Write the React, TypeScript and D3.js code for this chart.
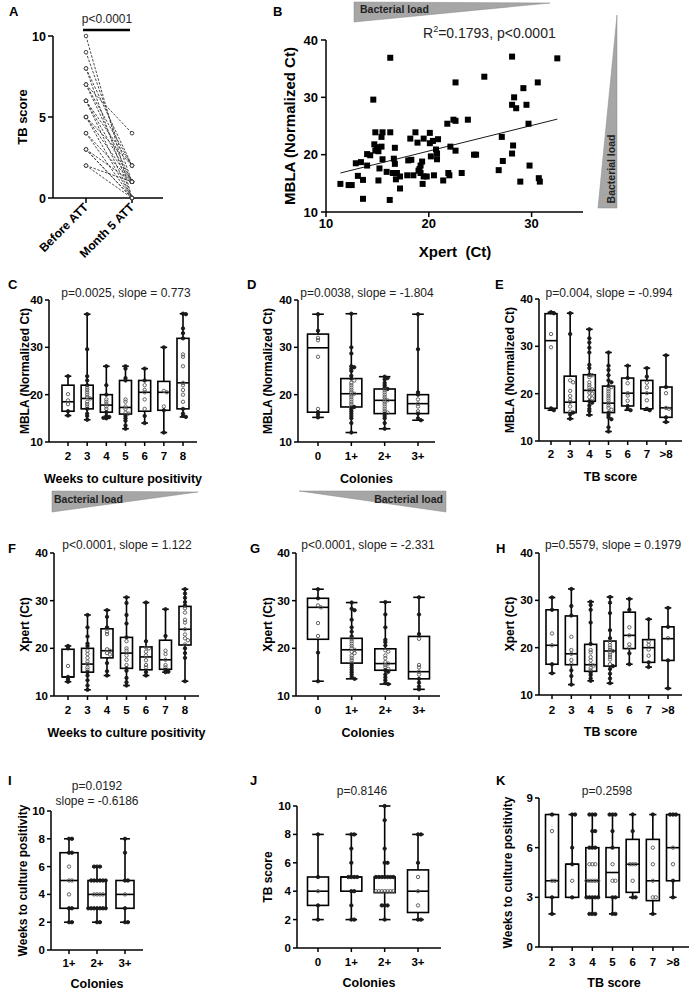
import React from "react";
import * as d3 from "d3";

const FONT = "'Liberation Sans', Arial, Helvetica, sans-serif";

// ---------- Panel A ----------
const aCats = ["Before ATT", "Month 5 ATT"];
const aBefore = [10, 9, 8, 8, 7, 7, 7, 6, 6, 6, 5, 5, 5, 4, 4, 3, 3, 3, 2, 2];
const aAfter = [0, 1, 2, 0, 4, 2, 1, 2, 1, 0, 1, 0, 2, 0, 1, 0, 1, 0, 0, 1];
const aTicks = [0, 5, 10];

// ---------- Panel B ----------
const bXpert = [11.4, 12.2, 12.5, 12.9, 13.1, 13.4, 13.6, 13.6, 14.0, 14.0, 14.3, 14.6, 14.7, 14.8, 14.8, 14.95, 15.1, 15.1, 15.2, 15.4, 15.4, 15.5, 15.5, 15.9, 16.25, 16.25, 16.2, 16.5, 16.6, 16.7, 16.7, 16.8, 16.9, 17.2, 17.2, 17.9, 18.0, 18.2, 18.3, 18.5, 18.7, 18.9, 19.0, 19.1, 19.2, 19.2, 19.35, 19.4, 19.5, 19.5, 19.8, 20.1, 20.1, 20.2, 20.4, 20.5, 20.7, 20.8, 20.8, 20.9, 21.4, 21.8, 21.9, 22.0, 22.1, 22.4, 22.6, 22.6, 22.6, 23.2, 23.8, 24.4, 24.6, 25.4, 26.8, 27.1, 27.2, 28.1, 28.1, 28.1, 28.2, 28.3, 28.5, 28.9, 29.2, 29.5, 29.7, 29.8, 30.6, 30.7, 30.8, 32.5];
const bMBLA = [14.9, 14.7, 14.7, 18.5, 16.3, 18.7, 12.3, 15.6, 18.1, 20.1, 19.9, 29.6, 21.8, 23.9, 20.7, 21.3, 20.6, 15.5, 17.6, 21.4, 23.1, 23.9, 19.2, 17.0, 36.9, 23.9, 12.1, 16.8, 19.3, 21.2, 18.4, 15.7, 16.8, 16.2, 14.1, 16.4, 19.0, 22.8, 19.1, 16.4, 23.9, 22.1, 17.2, 17.5, 18.1, 16.8, 18.8, 14.9, 22.8, 16.2, 16.2, 23.8, 22.0, 19.7, 22.4, 16.4, 20.9, 20.2, 19.2, 22.7, 15.5, 25.4, 16.8, 16.4, 21.4, 26.1, 32.6, 25.9, 20.7, 16.8, 26.1, 20.0, 20.0, 33.6, 17.3, 23.1, 18.9, 37.1, 28.7, 20.2, 21.6, 30.0, 28.1, 15.3, 31.6, 28.7, 25.4, 18.1, 32.6, 15.9, 15.3, 36.8];
const bFitX = [11.4, 32.5];
const bFitY = [16.8, 26.2];
const bXTicks = [10, 20, 30];
const bYTicks = [10, 20, 30, 40];

// ---------- shared categories ----------
const weekCats = ["2", "3", "4", "5", "6", "7", "8"];
const colCats = ["0", "1+", "2+", "3+"];
const tbCats = ["2", "3", "4", "5", "6", "7", ">8"];
const ctTicks = [10, 20, 30, 40];

// ---------- Panel C ----------
const cPoints = [
  [23.9, 20.1, 18.8, 18, 16.5, 15.6],
  [37, 29.6, 23.9, 23, 22, 21.5, 21, 20.5, 20, 19.5, 19.2, 18.5, 18, 17.5, 17, 16, 15.5, 14.7],
  [26, 22, 20, 19, 18.5, 18, 17.5, 17, 16.3, 15.5, 15.3, 15.1, 15],
  [26, 25.5, 23.5, 23, 19, 18.5, 17.5, 17, 16.2, 16, 15.5, 15, 14.5, 13.5, 12.8],
  [25.5, 23, 22, 21, 20.5, 19, 17, 15.5, 14],
  [30, 20.8, 20.5, 17.5, 16.7, 12],
  [37.1, 37, 34, 33, 31.9, 28.5, 28, 26, 22.5, 22, 21, 20, 18.5, 17, 16, 15.5, 15.3],
];
const cBox = [[15.6, 16.5, 18.5, 22, 23.9], [14.7, 17, 19.2, 22, 37], [15, 16.3, 17.8, 20, 26], [12.8, 15.9, 17.3, 23, 26], [14, 16.5, 20.5, 23, 25.5], [12, 16.7, 20.5, 22.8, 30], [15.3, 17, 22.5, 31.9, 37.1]];

// ---------- Panel D ----------
const dPoints = [
  [37, 33.5, 32, 31.5, 28, 17, 16.3, 15.8, 15.2],
  [37.1, 30, 28.7, 26, 25.8, 25.5, 25, 24, 23.4, 23, 22.5, 22, 21.5, 21, 20.5, 20.2, 20, 19.5, 19, 18.5, 18, 17.5, 17.4, 17, 16.5, 16, 15.5, 15, 14, 12],
  [23.8, 23.5, 23.2, 22.5, 22, 21.5, 21.2, 21, 20.5, 20, 19.5, 19, 18.8, 18.5, 18, 17.5, 17, 16.5, 16.2, 16, 15.5, 15, 14, 12.8],
  [37, 29.6, 20.5, 20, 19, 18.1, 17.5, 16.5, 16, 15, 14.6],
];
const dBox = [[15.2, 16.3, 29.9, 32.8, 37], [12, 17.4, 20.2, 23.4, 37.1], [12.8, 16, 18.8, 21.2, 23.8], [14.6, 16, 18.1, 20, 37]];

// ---------- Panel E ----------
const ePoints = [
  [37.2, 37, 32.6, 29.8, 16.9, 16.5],
  [37, 32.6, 22.8, 22.4, 20.6, 19.5, 18.7, 18.2, 17.3, 16.2, 16, 15.6, 14.7],
  [33.6, 31.7, 30.8, 29.7, 28.7, 26.1, 25.4, 24, 23.9, 23.5, 22.4, 21.8, 21.3, 20.9, 20.7, 20.2, 20, 19.3, 19, 18.4, 18.1, 17.5, 16.8, 16.3, 15.5],
  [28.7, 25.9, 25, 23.9, 22.8, 22.4, 21.6, 21.4, 21, 20.5, 20, 19.5, 19, 18.5, 18, 17.5, 17, 16.6, 16, 15.5, 15, 14.6, 12.9, 12],
  [25.9, 23.3, 22.2, 20.1, 19.6, 18.5, 17.4, 16.8, 16.5],
  [25.4, 23.6, 22.3, 21.3, 20.1, 18.6, 16.8, 16.5],
  [28.1, 21.4, 20.1, 17, 16.8, 15, 14],
];
const eBox = [[16.5, 16.9, 31.2, 36.9, 37.2], [14.7, 16, 18.2, 23.7, 37], [15.5, 18.4, 20.7, 24, 33.6], [12, 16, 18, 21.6, 28.7], [16.5, 17.4, 20.1, 23.3, 25.9], [16.5, 16.8, 20.1, 22.8, 25.4], [14, 15, 17, 21.4, 28.1]];

// ---------- Panel F ----------
const fPoints = [
  [20.5, 20, 16.3, 14, 13.5, 13],
  [27, 24.4, 22.5, 21, 20.5, 19.5, 18.8, 18, 17.2, 16.7, 16, 15.5, 15, 14.3, 13.3, 12.2, 11.3],
  [28, 26.6, 24.4, 23.5, 23, 19.8, 19.5, 19, 18.7, 16.9, 15.2, 14.3],
  [30.7, 29.5, 27, 25.2, 22.3, 21.5, 20, 19.5, 18.5, 17.6, 16.5, 15.8, 15.3, 13.8, 12.9, 12.2],
  [29.6, 21.5, 20.2, 20, 19.3, 18.5, 17.5, 16.5, 16, 15, 14.3],
  [28.2, 22.6, 19.5, 18.8, 17.6, 16.5, 16, 15.5, 15.1, 15],
  [32.4, 31.5, 30.6, 29.7, 29, 28.4, 27.5, 26, 25.4, 24, 22.9, 22.1, 21.7, 20.8, 20, 19, 18, 13.1],
];
const fBox = [[13, 14, 14, 19.8, 20.5], [11.3, 15, 16.7, 20, 27], [14.3, 18, 19.5, 24.1, 28], [12.2, 15.8, 19, 22.3, 30.7], [14.3, 15.5, 18.2, 20.3, 29.6], [15, 15.6, 17.6, 21.7, 28.2], [13.1, 20.7, 24, 28.8, 32.4]];

// ---------- Panel G ----------
const gPoints = [
  [32.4, 30.5, 29, 28.6, 25.3, 22.6, 19.1, 13.1],
  [29.6, 28.3, 28, 26, 24.4, 23.5, 22.5, 22, 21.5, 21, 20.5, 20, 19.7, 19.3, 19, 18.5, 18, 17.5, 17, 16.5, 16, 15.5, 15, 14.5, 14, 13.6],
  [29.7, 27.1, 24.4, 21.8, 21.3, 20.6, 19.6, 19.3, 18.5, 17.9, 17.1, 16.8, 16.5, 16, 15.7, 15.4, 15.1, 14.5, 13.9, 13.3, 12.7, 12.5],
  [30.7, 27.1, 23, 22, 16.5, 16, 15.1, 14.5, 13.6, 12.8, 12, 11.4],
];
const gBox = [[13.1, 21.9, 28.6, 30.5, 32.4], [13.6, 16.9, 19.7, 22.1, 29.6], [12.5, 15.4, 16.8, 19.9, 29.7], [11.4, 13.6, 15.1, 22.5, 30.7]];

// ---------- Panel H ----------
const hPoints = [
  [30.6, 28, 23, 20.5, 16.5, 14.6],
  [32.4, 28.8, 26.8, 22.3, 19.5, 18.7, 17.4, 16.5, 15.2, 14, 12.2],
  [29.7, 29, 28, 25.3, 20.8, 19.5, 19, 18, 17.3, 16.5, 16.2, 15.7, 15.2, 14.7, 14.2, 13.5, 13],
  [30.7, 29.5, 27.3, 23.7, 22, 21.2, 20.5, 20, 19.5, 19.3, 19, 18.5, 18, 17.5, 16.5, 16.1, 15.5, 14.5, 13.5, 12.5],
  [30.3, 28, 24.3, 22.6, 20.7, 20, 18.8, 16.5],
  [26, 21.3, 20.6, 19.6, 18.3, 16.9, 15.9],
  [28.4, 24.4, 22, 17.3, 11.4],
];
const hBox = [[14.6, 16.5, 20.5, 28, 30.6], [12.2, 16.4, 18.7, 26.7, 32.4], [13, 15, 16.4, 20.7, 29.7], [12.5, 16.1, 19.3, 21.4, 30.7], [16.5, 19.8, 22.6, 27.5, 30.3], [15.9, 16.9, 20, 21.7, 26], [11.4, 17.3, 21.9, 24.4, 28.4]];

// ---------- Panel I ----------
const iCats = ["1+", "2+", "3+"];
const iTicks = [0, 2, 4, 6, 8, 10];
const iPoints = [
  [8, 8, 7, 7, 6, 5, 5, 4, 3, 3, 2, 2],
  [6, 6, 6, 5, 5, 5, 5, 5, 5, 4, 4, 4, 4, 3, 3, 3, 3, 3, 3, 3, 2, 2],
  [8, 7, 5, 5, 4, 3, 2, 2],
];
const iBox = [[2, 3, 5, 7, 8], [2, 3, 4, 5, 6], [2, 3, 4, 5, 8]];

// ---------- Panel J ----------
const jTicks = [0, 2, 4, 6, 8, 10];
const jPoints = [
  [8, 5, 4, 3, 2],
  [8, 8, 7, 6, 5, 5, 5, 5, 4, 4, 3, 2, 2],
  [10, 9, 7, 6, 6, 5, 5, 5, 5, 5, 5, 5, 4, 4, 4, 4, 4, 4, 4, 3, 3, 3, 2],
  [8, 8, 6, 5, 4, 3, 2, 2],
];
const jBox = [[2, 3, 4, 5, 8], [2, 4, 5, 5, 8], [2, 3.9, 5, 5, 10], [2, 2.5, 4, 5.5, 8]];

// ---------- Panel K ----------
const kTicks = [0, 3, 6, 9];
const kPoints = [
  [8, 7, 4, 4, 3, 2],
  [8, 8, 6, 5, 4, 3],
  [8, 8, 8, 7, 7, 6, 6, 6, 5, 5, 5, 4, 4, 4, 4, 4, 3, 3, 3, 3, 3, 2, 2, 2],
  [8, 8, 8, 7, 6, 5, 4, 4, 3, 3, 2, 2],
  [8, 7, 5, 5, 5, 4, 3, 3],
  [8, 6, 5, 4, 3, 3, 2],
  [8, 8, 8, 6, 5, 4, 3],
];
const kBox = [[2, 3, 4, 8, 8], [3, 3, 5, 5, 8], [2, 3, 4, 6, 8], [2, 3, 4.5, 6, 8], [3, 3.3, 5, 6.5, 8], [2, 2.8, 4, 6.5, 8], [3, 4, 6, 8, 8]];

type Cfg = {
  letter: string; letterX: number; letterY: number;
  title: string[]; titleX: number; titleY: number;
  axisX: number; xEnd: number; yTop: number; yBot: number;
  domain: [number, number]; ticks: number[];
  cats: string[]; catRange: [number, number]; boxW: number;
  points: number[][]; stats: number[][];
  yLabel: string; yLabelX: number; xLabel: string; xLabelY: number; tickY: number;
};

function swarm(vals: number[], y: (v: number) => number, cx: number, step: number) {
  const placed: [number, number][] = [];
  const out: [number, number][] = new Array(vals.length);
  const order = vals.map((v, i) => ({ v, i })).sort((a, b) => b.v - a.v);
  for (const { v, i } of order) {
    const py = y(v);
    for (let k = 0; k < 30; k++) {
      const o = k === 0 ? 0 : k % 2 === 1 ? Math.ceil(k / 2) : -Math.ceil(k / 2);
      const px = cx + o * step;
      if (placed.every((p) => Math.hypot(p[0] - px, p[1] - py) >= step * 0.8)) {
        placed.push([px, py]);
        out[i] = [px, py];
        break;
      }
    }
  }
  return out;
}

function BoxPanel({ c }: { c: Cfg }) {
  const y = d3.scaleLinear().domain(c.domain).range([c.yBot, c.yTop]);
  const x = d3.scalePoint<string>().domain(c.cats).range(c.catRange);
  const midX = (c.axisX + c.xEnd) / 2;
  const midY = (c.yTop + c.yBot) / 2;
  const cap = Math.max(6, c.boxW * 0.55);
  return (
    <g>
      <text x={c.letterX} y={c.letterY} fontSize={13} fontWeight="bold">{c.letter}</text>
      {c.title.map((t, i) => (
        <text key={i} x={c.titleX} y={c.titleY + i * 15} fontSize={12} textAnchor="middle" fill="#222">{t}</text>
      ))}
      <line x1={c.axisX} x2={c.axisX} y1={c.yTop} y2={c.yBot} stroke="#000" strokeWidth={1.5} />
      <line x1={c.axisX} x2={c.xEnd} y1={c.yBot} y2={c.yBot} stroke="#000" strokeWidth={1.5} />
      {c.ticks.map((t) => (
        <g key={t}>
          <line x1={c.axisX - 4} x2={c.axisX} y1={y(t)} y2={y(t)} stroke="#000" strokeWidth={1.5} />
          <text x={c.axisX - 6} y={y(t) + 4} fontSize={11.5} fontWeight="bold" textAnchor="end">{t}</text>
        </g>
      ))}
      {c.cats.map((k) => (
        <g key={k}>
          <line x1={x(k)} x2={x(k)} y1={c.yBot} y2={c.yBot + 4} stroke="#000" strokeWidth={1.5} />
          <text x={x(k)} y={c.tickY} fontSize={11.5} fontWeight="bold" textAnchor="middle">{k}</text>
        </g>
      ))}
      <text transform={`translate(${c.yLabelX},${midY}) rotate(-90)`} fontSize={12} fontWeight="bold" textAnchor="middle">{c.yLabel}</text>
      <text x={midX} y={c.xLabelY} fontSize={12.5} fontWeight="bold" textAnchor="middle">{c.xLabel}</text>
      {c.cats.map((k, i) => {
        const cx = x(k) as number;
        const [mn, q1, md, q3, mx] = c.stats[i];
        return (
          <g key={"b" + k} stroke="#000" strokeWidth={1.6}>
            <line x1={cx} x2={cx} y1={y(mn)} y2={y(q1)} />
            <line x1={cx} x2={cx} y1={y(q3)} y2={y(mx)} />
            <line x1={cx - cap / 2} x2={cx + cap / 2} y1={y(mn)} y2={y(mn)} />
            <line x1={cx - cap / 2} x2={cx + cap / 2} y1={y(mx)} y2={y(mx)} />
            <rect x={cx - c.boxW / 2} y={y(q3)} width={c.boxW} height={Math.max(0.5, y(q1) - y(q3))} fill="#fff" />
            <line x1={cx - c.boxW / 2} x2={cx + c.boxW / 2} y1={y(md)} y2={y(md)} />
          </g>
        );
      })}
      {c.cats.map((k, i) => {
        const pts = swarm(c.points[i], y, x(k) as number, 2.9);
        const [, q1, , q3] = c.stats[i];
        return (
          <g key={"p" + k}>
            {pts.map((p, j) => {
              const v = c.points[i][j];
              const inside = v > q1 && v < q3;
              return (
                <circle key={j} cx={p[0]} cy={p[1]} r={1.7} fill={inside ? "none" : "#1a1a1a"} stroke={inside ? "#555" : "#1a1a1a"} strokeWidth={0.9} />
              );
            })}
          </g>
        );
      })}
    </g>
  );
}

function PanelA() {
  const y = d3.scaleLinear().domain([0, 10]).range([198, 36]);
  const x = d3.scalePoint<string>().domain(aCats).range([86, 132]);
  const x0 = x(aCats[0]) as number;
  const x1 = x(aCats[1]) as number;
  return (
    <g>
      <text x={9} y={16} fontSize={13} fontWeight="bold">A</text>
      <text x={107} y={23} fontSize={12} textAnchor="middle" fill="#222">p&lt;0.0001</text>
      <line x1={83} x2={130} y1={30} y2={30} stroke="#000" strokeWidth={2.6} />
      <line x1={53} x2={53} y1={36} y2={198} stroke="#000" strokeWidth={1.5} />
      <line x1={53} x2={163} y1={198} y2={198} stroke="#000" strokeWidth={1.5} />
      {aTicks.map((t) => (
        <g key={t}>
          <line x1={48} x2={53} y1={y(t)} y2={y(t)} stroke="#000" strokeWidth={1.5} />
          <text x={46} y={y(t) + 4.5} fontSize={12.5} fontWeight="bold" textAnchor="end">{t}</text>
        </g>
      ))}
      {aCats.map((k) => (
        <g key={k}>
          <line x1={x(k)} x2={x(k)} y1={198} y2={203} stroke="#000" strokeWidth={1.5} />
          <text transform={`translate(${(x(k) as number) + 3},${208}) rotate(-45)`} fontSize={12} fontWeight="bold" textAnchor="end">{k}</text>
        </g>
      ))}
      <text transform={`translate(27,117) rotate(-90)`} fontSize={13} fontWeight="bold" textAnchor="middle">TB score</text>
      {aBefore.map((b, i) => (
        <line key={i} x1={x0} y1={y(b)} x2={x1} y2={y(aAfter[i])} stroke="#333" strokeWidth={0.9} strokeDasharray="2.5,1.5" />
      ))}
      {aBefore.map((b, i) => (
        <circle key={"b" + i} cx={x0} cy={y(b)} r={1.8} fill="#fff" stroke="#333" strokeWidth={0.9} />
      ))}
      {aAfter.map((b, i) => (
        <circle key={"a" + i} cx={x1} cy={y(b)} r={1.8} fill="#fff" stroke="#333" strokeWidth={0.9} />
      ))}
    </g>
  );
}

function PanelB() {
  const x = d3.scaleLinear().domain([10, 35]).range([326, 583]);
  const y = d3.scaleLinear().domain([10, 40]).range([212, 40]);
  const line = d3.line<number>().x((_, i) => x(bFitX[i])).y((d) => y(d));
  return (
    <g>
      <text x={273} y={16} fontSize={13} fontWeight="bold">B</text>
      <polygon points="354,2 550,3 354,22" fill="#a6a6a6" stroke="#8a8a8a" strokeWidth={0.5} />
      <text x={360} y={13} fontSize={10.5} fontWeight="bold" fill="#222">Bacterial load</text>
      <polygon points="617,15 617,208 598,208" fill="#a6a6a6" stroke="#8a8a8a" strokeWidth={0.5} />
      <text transform="translate(615,169) rotate(-90)" fontSize={10.5} fontWeight="bold" fill="#222" textAnchor="middle">Bacterial load</text>
      <text x={423} y={38} fontSize={14} fill="#222">R<tspan fontSize={9} dy={-6}>2</tspan><tspan dy={6}>=0.1793, p&lt;0.0001</tspan></text>
      <line x1={326} x2={326} y1={40} y2={212} stroke="#000" strokeWidth={1.5} />
      <line x1={326} x2={583} y1={212} y2={212} stroke="#000" strokeWidth={1.5} />
      {bYTicks.map((t) => (
        <g key={t}>
          <line x1={321} x2={326} y1={y(t)} y2={y(t)} stroke="#000" strokeWidth={1.5} />
          <text x={318} y={y(t) + 4.5} fontSize={13} fontWeight="bold" textAnchor="end">{t}</text>
        </g>
      ))}
      {bXTicks.map((t) => (
        <g key={t}>
          <line x1={x(t)} x2={x(t)} y1={212} y2={217} stroke="#000" strokeWidth={1.5} />
          <text x={x(t)} y={228} fontSize={13} fontWeight="bold" textAnchor="middle">{t}</text>
        </g>
      ))}
      <text transform="translate(295,126) rotate(-90)" fontSize={15} fontWeight="bold" textAnchor="middle">MBLA (Normalized Ct)</text>
      <text x={455} y={257} fontSize={15} fontWeight="bold" textAnchor="middle" style={{ whiteSpace: "pre" }}>Xpert  (Ct)</text>
      {bXpert.map((v, i) => (
        <rect key={i} x={x(v) - 3} y={y(bMBLA[i]) - 3} width={6} height={6} fill="#000" />
      ))}
      <path d={line(bFitY) || ""} stroke="#000" strokeWidth={0.9} fill="none" />
    </g>
  );
}

const panels: Cfg[] = [
  { letter: "C", letterX: 8, letterY: 289, title: ["p=0.0025, slope = 0.773"], titleX: 126, titleY: 297, axisX: 49, xEnd: 197, yTop: 300, yBot: 442, domain: [10, 40], ticks: ctTicks, cats: weekCats, catRange: [68, 183], boxW: 12, points: cPoints, stats: cBox, yLabel: "MBLA (Normalized Ct)", yLabelX: 29, xLabel: "Weeks to culture positivity", xLabelY: 483, tickY: 460 },
  { letter: "D", letterX: 247, letterY: 289, title: ["p=0.0038, slope = -1.804"], titleX: 367, titleY: 297, axisX: 298, xEnd: 435, yTop: 300, yBot: 442, domain: [10, 40], ticks: ctTicks, cats: colCats, catRange: [318, 418], boxW: 21, points: dPoints, stats: dBox, yLabel: "MBLA (Normalized Ct)", yLabelX: 272, xLabel: "Colonies", xLabelY: 483, tickY: 460 },
  { letter: "E", letterX: 495, letterY: 289, title: ["p=0.004, slope = -0.994"], titleX: 609, titleY: 297, axisX: 539, xEnd: 682, yTop: 299, yBot: 441, domain: [10, 40], ticks: ctTicks, cats: tbCats, catRange: [551, 666], boxW: 12, points: ePoints, stats: eBox, yLabel: "MBLA (Normalized Ct)", yLabelX: 514, xLabel: "TB score", xLabelY: 481, tickY: 458 },
  { letter: "F", letterX: 8, letterY: 553, title: ["p<0.0001, slope = 1.122"], titleX: 127, titleY: 549, axisX: 54, xEnd: 199, yTop: 553, yBot: 696, domain: [10, 40], ticks: ctTicks, cats: weekCats, catRange: [68, 185], boxW: 12, points: fPoints, stats: fBox, yLabel: "Xpert (Ct)", yLabelX: 29, xLabel: "Weeks to culture positivity", xLabelY: 737, tickY: 714 },
  { letter: "G", letterX: 250, letterY: 553, title: ["p<0.0001, slope = -2.331"], titleX: 368, titleY: 549, axisX: 296, xEnd: 440, yTop: 553, yBot: 696, domain: [10, 40], ticks: ctTicks, cats: colCats, catRange: [318, 419], boxW: 21, points: gPoints, stats: gBox, yLabel: "Xpert (Ct)", yLabelX: 272, xLabel: "Colonies", xLabelY: 737, tickY: 714 },
  { letter: "H", letterX: 496, letterY: 553, title: ["p=0.5579, slope = 0.1979"], titleX: 613, titleY: 549, axisX: 539, xEnd: 682, yTop: 553, yBot: 695, domain: [10, 40], ticks: ctTicks, cats: tbCats, catRange: [552, 668], boxW: 12, points: hPoints, stats: hBox, yLabel: "Xpert (Ct)", yLabelX: 514, xLabel: "TB score", xLabelY: 736, tickY: 714 },
  { letter: "I", letterX: 8, letterY: 785, title: ["p=0.0192", "slope = -0.6186"], titleX: 97, titleY: 790, axisX: 51, xEnd: 143, yTop: 811, yBot: 950, domain: [0, 10], ticks: iTicks, cats: iCats, catRange: [69, 125], boxW: 18, points: iPoints, stats: iBox, yLabel: "Weeks to culture positivity", yLabelX: 27, xLabel: "Colonies", xLabelY: 988, tickY: 967 },
  { letter: "J", letterX: 250, letterY: 785, title: ["p=0.8146"], titleX: 362, titleY: 795, axisX: 297, xEnd: 441, yTop: 806, yBot: 948, domain: [0, 10], ticks: jTicks, cats: colCats, catRange: [318, 418], boxW: 21, points: jPoints, stats: jBox, yLabel: "TB score", yLabelX: 272, xLabel: "Colonies", xLabelY: 987, tickY: 966 },
  { letter: "K", letterX: 496, letterY: 785, title: ["p=0.2598"], titleX: 607, titleY: 795, axisX: 539, xEnd: 689, yTop: 798, yBot: 947, domain: [0, 9], ticks: kTicks, cats: tbCats, catRange: [552, 673], boxW: 13, points: kPoints, stats: kBox, yLabel: "Weeks to culture positivity", yLabelX: 512, xLabel: "TB score", xLabelY: 987, tickY: 966 },
];

export default function App() {
  return (
    <svg width={691} height={991} viewBox="0 0 691 991" style={{ position: "absolute", left: 0, top: 0, background: "#fff" }} fontFamily={FONT}>
      <rect width={691} height={991} fill="#fff" />
      <PanelA />
      <PanelB />
      {panels.map((p) => (
        <BoxPanel key={p.letter} c={p} />
      ))}
      <polygon points="52,491 198,492 52,512" fill="#a6a6a6" stroke="#8a8a8a" strokeWidth={0.5} />
      <text x={54} y={503} fontSize={10.5} fontWeight="bold" fill="#222">Bacterial load</text>
      <polygon points="299,491 446,491 446,512" fill="#a6a6a6" stroke="#8a8a8a" strokeWidth={0.5} />
      <text x={443} y={503} fontSize={10.5} fontWeight="bold" fill="#222" textAnchor="end">Bacterial load</text>
    </svg>
  );
}
